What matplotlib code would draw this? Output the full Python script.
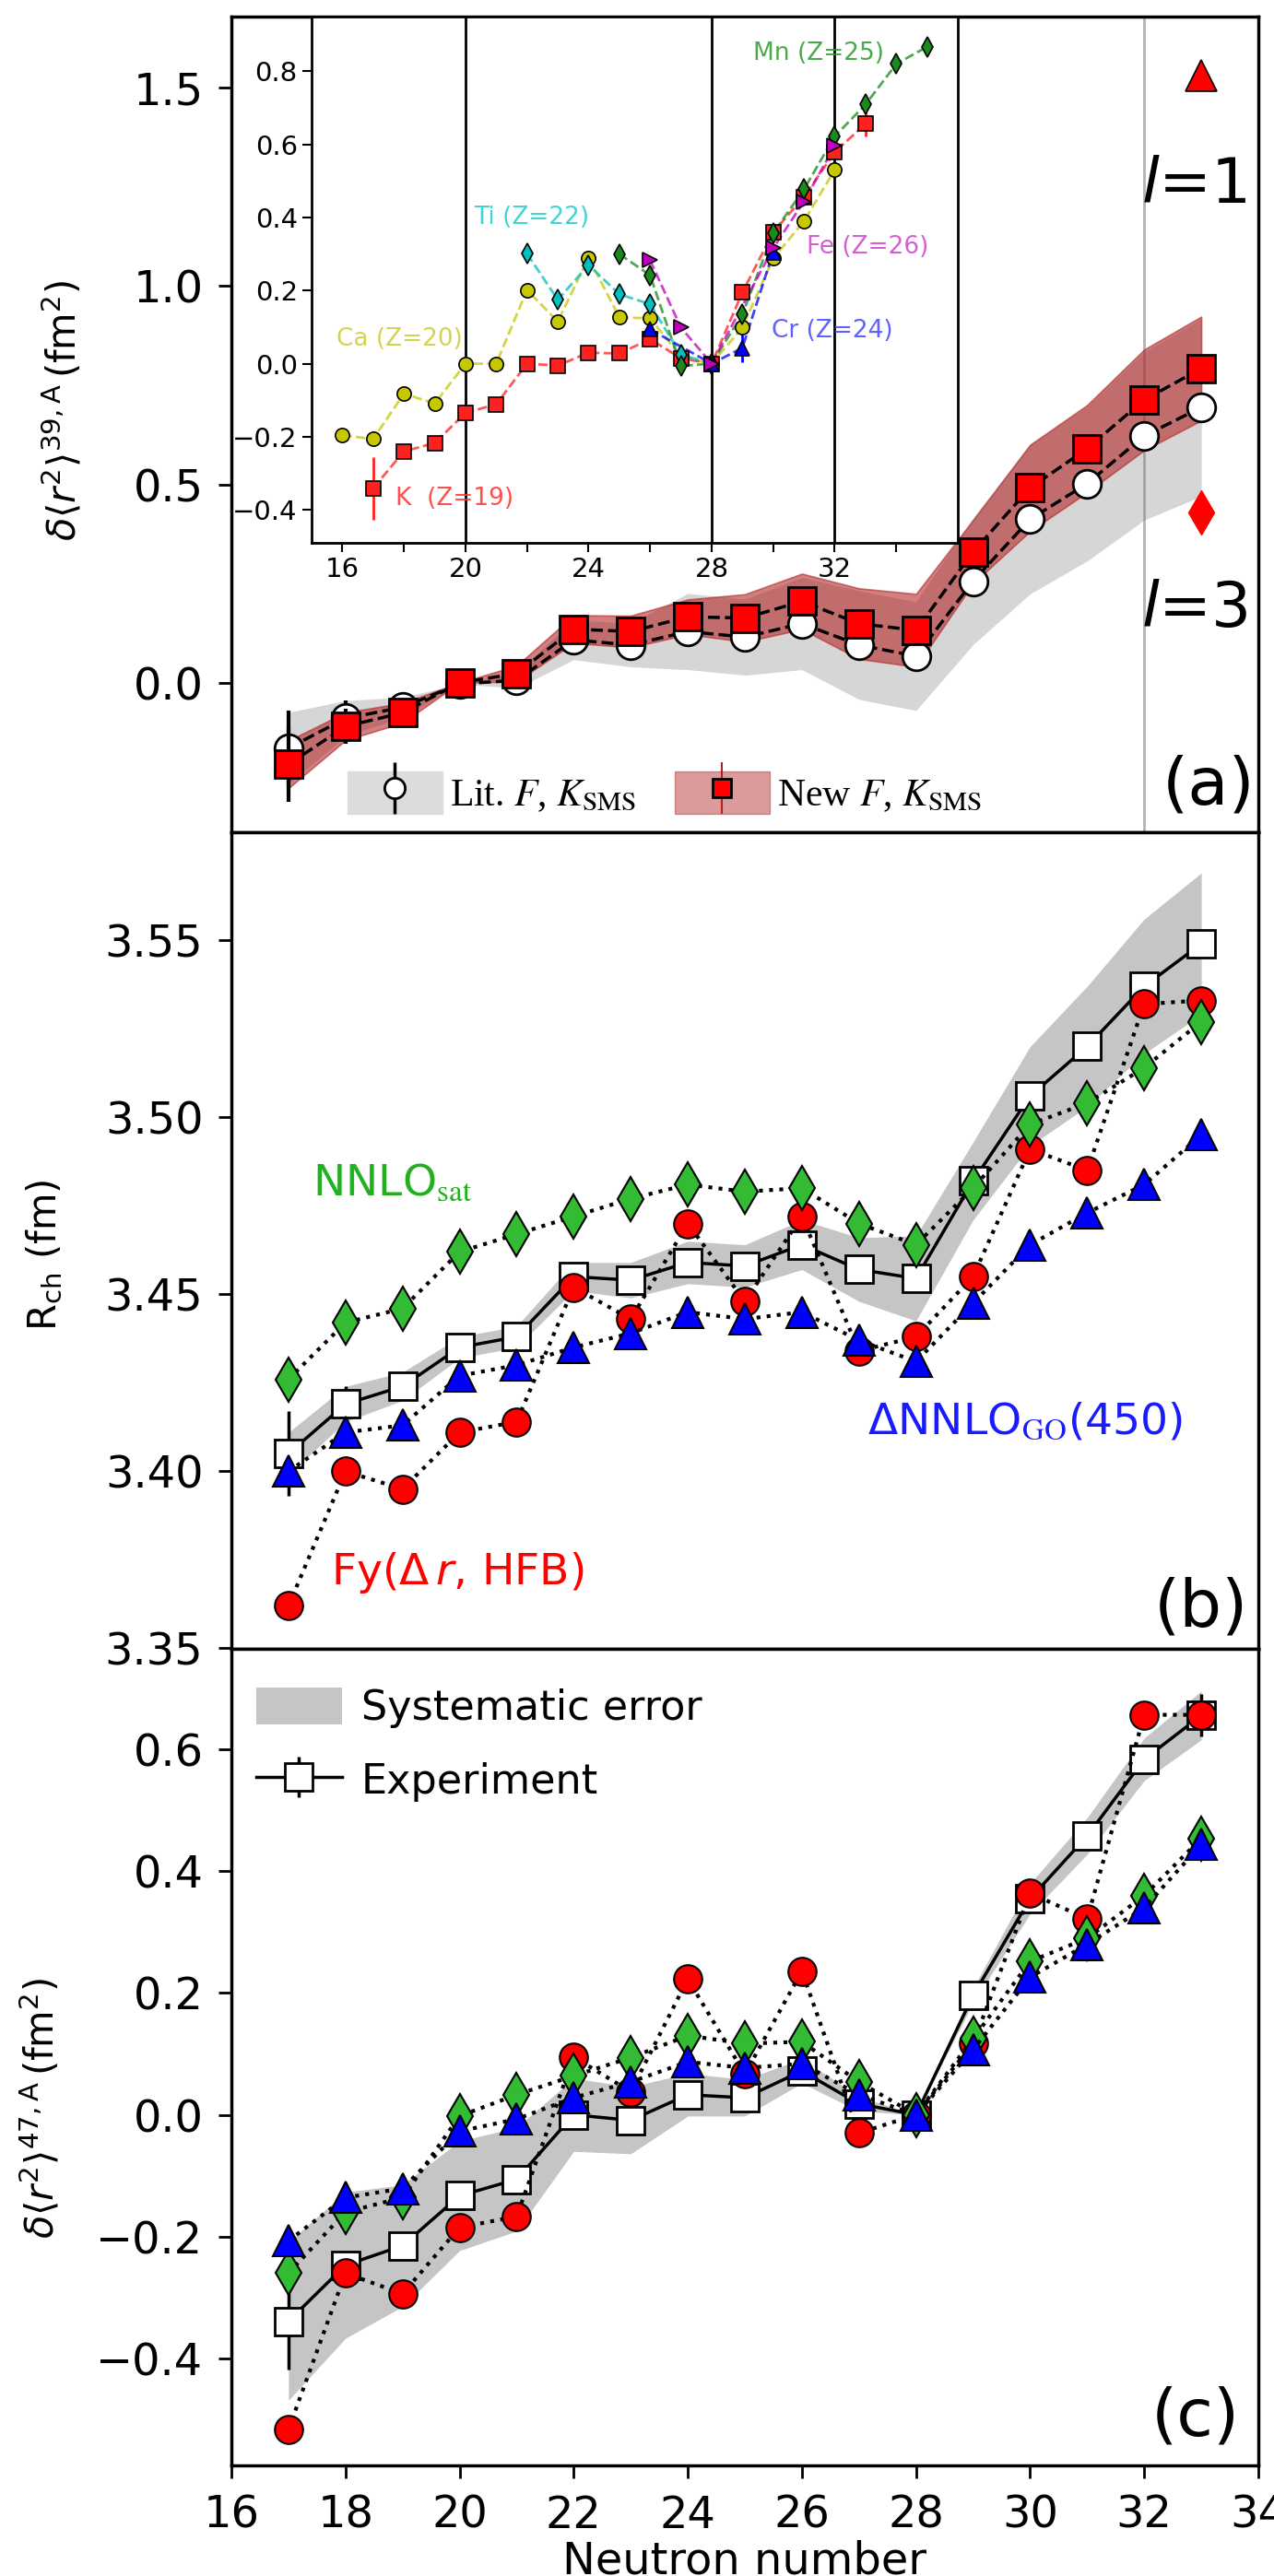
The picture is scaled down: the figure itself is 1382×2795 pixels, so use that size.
import numpy as np
import matplotlib
matplotlib.use("Agg")
import matplotlib.pyplot as plt
from matplotlib.patches import Patch
from matplotlib.lines import Line2D
from matplotlib.font_manager import FontProperties

plt.rcParams['font.family'] = ['DejaVu Sans']
plt.rcParams['mathtext.fontset'] = 'dejavusans'

# ---- data ----
N = np.arange(17, 34)

# (a) delta<r2>^{39,A}
lit_a = np.array([-0.165, -0.09, -0.062, -0.003, 0.006, 0.108, 0.095, 0.129, 0.115, 0.149,
                  0.095, 0.067, 0.256, 0.412, 0.502, 0.622, 0.694])
new_a = np.array([-0.206, -0.11, -0.076, 0.0, 0.023, 0.135, 0.129, 0.166, 0.163, 0.205,
                  0.149, 0.132, 0.330, 0.491, 0.590, 0.713, 0.792])
err_a = np.array([0.095, 0.045, 0.015, 0.0, 0.008, 0.008, 0.008, 0.008, 0.008, 0.008,
                  0.008, 0.008, 0.008, 0.008, 0.008, 0.008, 0.01])
lit_sys = np.array([0.09, 0.045, 0.025, 0.0, 0.02, 0.05, 0.055, 0.096, 0.096, 0.116,
                    0.137, 0.137, 0.16, 0.188, 0.195, 0.212, 0.224])
new_sys = np.array([0.06, 0.035, 0.025, 0.0, 0.02, 0.035, 0.04, 0.044, 0.06, 0.07,
                    0.089, 0.092, 0.08, 0.109, 0.11, 0.127, 0.131])
N_l = [33]
l1_val, l1_err = [1.53], [0.03]
l3_val = [0.43]

# inset: isotope chains relative to N=28
K_N = np.arange(17, 34)
K_v = [-0.341, -0.24, -0.217, -0.135, -0.111, 0.0, -0.005, 0.03, 0.028, 0.067, 0.015, 0.0,
       0.195, 0.36, 0.456, 0.579, 0.656]
K_e = [0.085, 0.005, 0.005, 0.005, 0.005, 0.005, 0.005, 0.005, 0.005, 0.005, 0.005, 0.0,
       0.005, 0.005, 0.01, 0.015, 0.035]
Ca_N = np.arange(16, 33)
Ca_v = [-0.196, -0.206, -0.082, -0.109, 0.0, 0.0, 0.202, 0.115, 0.29, 0.127, 0.124, 0.02, 0.0,
        0.099, 0.288, 0.39, 0.53]
Ti_N = np.arange(22, 29)
Ti_v = [0.301, 0.175, 0.27, 0.19, 0.163, 0.025, 0.0]
Cr_N = [26, 28, 29, 30]
Cr_v = [0.094, 0.0, 0.043, 0.305]
Cr_e = [0.0, 0.0, 0.038, 0.0]
Mn_N = np.arange(25, 36)
Mn_v = [0.30, 0.242, -0.006, 0.0, 0.135, 0.357, 0.477, 0.622, 0.709, 0.82, 0.867]
Fe_N = [26, 27, 28, 30, 31, 32]
Fe_v = [0.283, 0.099, 0.0, 0.316, 0.444, 0.596]

# (b) R_ch
exp_b = np.array([3.405, 3.419, 3.424, 3.435, 3.438, 3.455, 3.454, 3.459, 3.458, 3.464,
                  3.457, 3.4545, 3.482, 3.506, 3.520, 3.537, 3.549])
err_b = np.array([0.012, 0.005, 0.003, 0.002, 0.002, 0.002, 0.002, 0.002, 0.002, 0.002,
                  0.002, 0.002, 0.002, 0.002, 0.002, 0.002, 0.003])
sys_b = np.array([0.006, 0.005, 0.004, 0.003, 0.003, 0.004, 0.005, 0.006, 0.006, 0.007,
                  0.009, 0.012, 0.011, 0.014, 0.017, 0.019, 0.02])
fy_b = [3.362, 3.400, 3.395, 3.411, 3.414, 3.452, 3.443, 3.470, 3.448, 3.472, 3.434, 3.438,
        3.455, 3.491, 3.485, 3.532, 3.533]
sat_b = [3.426, 3.442, 3.446, 3.462, 3.467, 3.472, 3.477, 3.481, 3.479, 3.480, 3.470, 3.464,
         3.480, 3.498, 3.504, 3.514, 3.527]
go_b = [3.400, 3.411, 3.413, 3.427, 3.430, 3.435, 3.439, 3.445, 3.443, 3.445, 3.437, 3.431,
        3.4475, 3.464, 3.473, 3.481, 3.495]

# (c) delta<r2>^{47,A}
exp_c = np.array([-0.339, -0.247, -0.215, -0.133, -0.106, 0.0, -0.009, 0.033, 0.028, 0.072,
                  0.018, 0.0, 0.196, 0.355, 0.458, 0.584, 0.656])
err_c = np.array([0.08, 0.02, 0.01, 0.008, 0.008, 0.008, 0.008, 0.008, 0.008, 0.008,
                  0.008, 0.0, 0.008, 0.01, 0.012, 0.02, 0.035])
sys_c = np.array([0.13, 0.12, 0.10, 0.09, 0.085, 0.06, 0.055, 0.035, 0.03, 0.02,
                  0.012, 0.0, 0.012, 0.025, 0.03, 0.035, 0.04])
fy_c = [-0.517, -0.26, -0.294, -0.185, -0.167, 0.095, 0.038, 0.223, 0.067, 0.236, -0.030, 0.0,
        0.117, 0.364, 0.322, 0.657, 0.657]
sat_c = [-0.26, -0.16, -0.136, -0.002, 0.033, 0.064, 0.094, 0.13, 0.117, 0.12, 0.054, 0.0,
         0.125, 0.252, 0.29, 0.36, 0.454]
go_c = [-0.207, -0.136, -0.121, -0.027, -0.007, 0.028, 0.054, 0.087, 0.077, 0.084, 0.033, 0.0,
        0.107, 0.226, 0.28, 0.34, 0.444]

TICK = 34.5
RED, GREEN, BLUE = '#ff0000', '#33bb33', '#0000ff'

fig, axs = plt.subplots(3, 1, figsize=(13.82, 27.95), dpi=100, sharex=True)
fig.subplots_adjust(left=0.1816, right=0.9877, top=0.9937, bottom=0.0429, hspace=0)
for ax in axs:
    for s in ax.spines.values():
        s.set_linewidth(2.5)
    ax.tick_params(direction='out', length=10, width=2, labelsize=TICK, pad=12,
                   top=False, right=False)
axs[2].set_xlim(16, 34)
axs[2].set_xticks(np.arange(16, 35, 2))

# ---------- (a) ----------
ax = axs[0]
ax.axvline(32, color='gray', lw=2, alpha=0.6, zorder=1.5)
ax.fill_between(N, lit_a - lit_sys, lit_a + lit_sys, color='#d6d6d6', lw=0, zorder=1)
ax.fill_between(N, new_a - new_sys, new_a + new_sys, facecolor='firebrick', alpha=0.58,
                edgecolor='firebrick', lw=1.2, zorder=2)
ax.plot(N, lit_a, 'k--', lw=2.5, zorder=3)
ax.plot(N, new_a, 'k--', lw=2.5, zorder=3)
ax.errorbar(N, lit_a, yerr=err_a, fmt='o', ms=22, mfc='white', mec='k', mew=2,
            ecolor='k', elinewidth=3, zorder=4)
ax.errorbar(N, new_a, yerr=err_a, fmt='s', ms=21, mfc='red', mec='k', mew=2,
            ecolor='k', elinewidth=3, zorder=5)
ax.errorbar(N_l, l1_val, yerr=l1_err, fmt='^', ms=24, mfc='red', mec='k', mew=1.2,
            ecolor='k', elinewidth=2, zorder=5)
ax.plot(N_l, l3_val, 'd', ms=24, color='red', zorder=5)
ax.text(31.95, 1.21, r'$l$=1', fontsize=49, ha='left', va='baseline')
ax.text(31.95, 0.142, r'$l$=3', fontsize=49, ha='left', va='baseline')
ax.text(0.997, 0.035, '(a)', fontsize=52, ha='right', va='baseline', transform=ax.transAxes)
ax.set_ylim(-0.378, 1.68)
ax.set_yticks([0.0, 0.5, 1.0, 1.5])
ax.set_ylabel(r'$\delta\langle r^2\rangle^{\mathrm{39,A}}\,$(fm$^2$)', fontsize=30)
ax.yaxis.set_label_coords(-0.143, 0.517)

fp = FontProperties(family=['Liberation Serif'], size=30, math_fontfamily='stix')
h_lit = (Patch(color='#dcdcdc'),
         Line2D([], [], marker='|', ms=40, mew=2.5, color='k', ls='none'),
         Line2D([], [], marker='o', ms=16, mfc='white', mec='k', mew=2, ls='none'))
h_new = (Patch(color='firebrick', alpha=0.45),
         Line2D([], [], marker='|', ms=40, mew=1.5, color='firebrick', ls='none'),
         Line2D([], [], marker='s', ms=15, mfc='red', mec='k', mew=2, ls='none'))
ax.legend([h_lit, h_new], [r'Lit. $F$, $K_{\rm SMS}$', r'New $F$, $K_{\rm SMS}$'],
          loc='center left', bbox_to_anchor=(0.113, 0.049), ncol=2, frameon=False, prop=fp,
          handlelength=2.47, handleheight=1.35, handletextpad=0.2, columnspacing=1.0,
          borderpad=0, borderaxespad=0)

# inset
axi = fig.add_axes([0.2446, 0.7893, 0.5072, 0.2043])
for s in axi.spines.values():
    s.set_linewidth(2)
for xv in (20, 28, 32):
    axi.axvline(xv, color='k', lw=2, zorder=0)
chains = [
    (Ca_N, Ca_v, None, 'o', '#c8c800', '#cccc33', 'Ca (Z=20)', 15.8, 0.066),
    (K_N, K_v, K_e, 's', '#ff2020', '#ff3030', 'K  (Z=19)', 17.74, -0.37),
    (Ti_N, Ti_v, None, 'd', '#00bfbf', '#22cccc', 'Ti (Z=22)', 20.28, 0.40),
    (Mn_N, Mn_v, None, 'd', '#1a8a1a', '#2a9a2a', 'Mn (Z=25)', 29.35, 0.85),
    (Cr_N, Cr_v, Cr_e, '^', '#0000ff', '#4444ff', 'Cr (Z=24)', 29.95, 0.09),
    (Fe_N, Fe_v, None, '>', '#bf00bf', '#cc44cc', 'Fe (Z=26)', 31.1, 0.32),
]
for xs, ys, es, mk, col, tcol, lab, tx, ty in chains:
    axi.plot(xs, ys, '--', color=col, lw=2, alpha=0.75, zorder=2)
    axi.errorbar(xs, ys, yerr=es, fmt=mk, ms=11, mfc=col, mec='k', mew=1.2,
                 ecolor=col, elinewidth=2, zorder=3)
    axi.text(tx, ty, lab, color=tcol, fontsize=19, ha='left', va='center', alpha=0.85)
axi.set_xlim(15, 36)
axi.set_ylim(-0.49, 0.95)
axi.set_xticks(np.arange(16, 35, 2))
axi.set_xticklabels([str(t) if t % 4 == 0 else '' for t in range(16, 35, 2)])
axi.set_yticks([-0.4, -0.2, 0.0, 0.2, 0.4, 0.6, 0.8])
axi.tick_params(direction='out', length=7, width=1.5, labelsize=21, pad=4)

# ---------- (b) ----------
ax = axs[1]
ax.fill_between(N, exp_b - sys_b, exp_b + sys_b, color='gray', alpha=0.45, lw=0, zorder=1)
ax.errorbar(N, exp_b, yerr=err_b, fmt='s-', color='k', ms=22, mfc='white', mec='k', mew=2,
            lw=2.5, elinewidth=2.5, zorder=3)
ax.plot(N, fy_b, ':', color='k', lw=3, marker='o', ms=22, mfc=RED, mec='k', mew=1.5, zorder=4)
ax.plot(N, sat_b, ':', color='k', lw=3, marker='d', ms=24, mfc=GREEN, mec='k', mew=1.5, zorder=5)
ax.plot(N, go_b, ':', color='k', lw=3, marker='^', ms=25, mfc=BLUE, mec='k', mew=1.5, zorder=6)
ax.text(17.42, 3.4777, r'NNLO$_{\rm sat}$', color='#22b022', fontsize=34, ha='left',
        va='baseline', math_fontfamily='stix')
ax.text(17.75, 3.368, r'Fy($\Delta\,r$, HFB)', color=RED, fontsize=34, ha='left', va='baseline')
ax.text(27.15, 3.4106, r'ΔNNLO$_{\rm GO}$(450)', color='#1a1aff', fontsize=34, ha='left',
        va='baseline', math_fontfamily='stix')
ax.text(0.99, 0.028, '(b)', fontsize=52, ha='right', va='baseline', transform=ax.transAxes)
ax.set_ylim(3.3498, 3.5804)
ax.set_yticks([3.35, 3.40, 3.45, 3.50, 3.55])
ax.set_yticklabels(['3.35', '3.40', '3.45', '3.50', '3.55'])
ax.set_ylabel(r'R$_{\rm ch}$ (fm)', fontsize=30)
ax.yaxis.set_label_coords(-0.162, 0.483)

# ---------- (c) ----------
ax = axs[2]
band_c = ax.fill_between(N, exp_c - sys_c, exp_c + sys_c, color='gray', alpha=0.45, lw=0,
                         zorder=1, label='Systematic error')
exp_h = ax.errorbar(N, exp_c, yerr=err_c, fmt='s-', color='k', ms=22, mfc='white', mec='k',
                    mew=2, lw=2.5, elinewidth=2.5, zorder=3, label='Experiment')
ax.plot(N, fy_c, ':', color='k', lw=3, marker='o', ms=22, mfc=RED, mec='k', mew=1.5, zorder=4)
ax.plot(N, sat_c, ':', color='k', lw=3, marker='d', ms=24, mfc=GREEN, mec='k', mew=1.5, zorder=5)
ax.plot(N, go_c, ':', color='k', lw=3, marker='^', ms=25, mfc=BLUE, mec='k', mew=1.5, zorder=6)
ax.text(0.982, 0.037, '(c)', fontsize=52, ha='right', va='baseline', transform=ax.transAxes)
ax.set_ylim(-0.576, 0.765)
ax.set_yticks([-0.4, -0.2, 0.0, 0.2, 0.4, 0.6])
ax.set_ylabel(r'$\delta\langle r^2\rangle^{\mathrm{47,A}}\,$(fm$^2$)', fontsize=30)
ax.yaxis.set_label_coords(-0.165, 0.438)
ax.legend([band_c, exp_h], ['Systematic error', 'Experiment'], loc='upper left',
          bbox_to_anchor=(0.024, 0.953), frameon=False, fontsize=32, handlelength=2.1,
          handleheight=1.0, handletextpad=0.47, labelspacing=0.8, borderpad=0,
          borderaxespad=0)
ax.set_xlabel('Neutron number', fontsize=TICK, labelpad=2)

fig.savefig('out.png', dpi=100)
